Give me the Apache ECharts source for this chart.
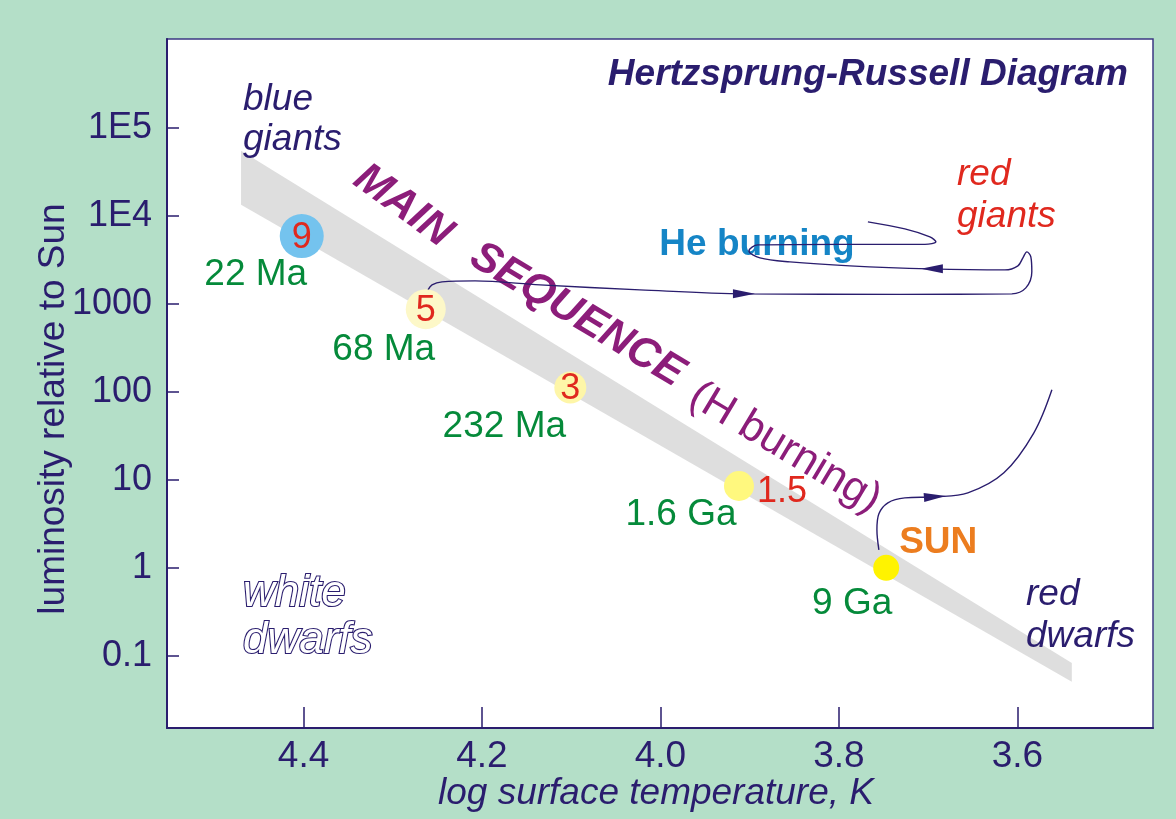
<!DOCTYPE html>
<html><head><meta charset="utf-8">
<script src="https://cdn.jsdelivr.net/npm/echarts@6/dist/echarts.min.js"></script>
<style>html,body{margin:0;padding:0;background:#b4dfc8;}#c{width:1176px;height:819px;}</style>
</head><body><div id="c"></div>
<script>
// ---- axis ticks ----
const xTicks = [3.6, 3.8, 4.0, 4.2, 4.4];          // log surface temperature
const yTicks = [-1, 0, 1, 2, 3, 4, 5];             // log10 luminosity
const yTickLabels = ['0.1', '1', '10', '100', '1000', '1E4', '1E5'];

// ---- stars on the main sequence (log T, log10 L) ----
const starTemp = [4.402, 4.263, 4.101, 3.912, 3.747];
const starLogL = [3.77, 2.94, 2.05, 0.93, 0.0];
const starMass = ['9', '5', '3', '1.5', 'SUN'];
const starAge  = ['22 Ma', '68 Ma', '232 Ma', '1.6 Ga', '9 Ga'];

// ---- main sequence band (log T, log10 L) ----
const bandTemp = [4.470, 3.539, 3.539, 4.470];
const bandLogL = [4.74, -1.08, -1.295, 4.125];

// ---- evolutionary track: 5 solar mass star to red giant and He burning loop ----
const trackATemp = [4.2605, 4.2560, 4.2448, 4.2078, 4.1350, 4.0230, 3.9053, 3.7317, 3.6062, 3.5905,
  3.5838, 3.5849, 3.5894, 3.5938, 3.5994, 3.6140, 3.6980, 3.7877, 3.8549, 3.8885,
  3.9008, 3.8908, 3.7989, 3.7036, 3.6913, 3.6980, 3.7261, 3.7675];
const trackALogL = [3.159, 3.216, 3.250, 3.261, 3.216, 3.159, 3.114, 3.108, 3.114, 3.182,
  3.364, 3.534, 3.591, 3.523, 3.432, 3.386, 3.398, 3.432, 3.477, 3.523,
  3.602, 3.670, 3.676, 3.676, 3.705, 3.761, 3.852, 3.932];

// ---- evolutionary track of the Sun ----
const trackSunTemp = [3.7552, 3.7574, 3.7552, 3.7451, 3.7261, 3.6924, 3.6555, 3.6151, 3.5815, 3.5613];
const trackSunLogL = [0.205, 0.432, 0.614, 0.739, 0.795, 0.807, 0.852, 1.080, 1.534, 2.023];

// ---- arrow heads on the tracks ----
const arrowTemp = [3.9064, 3.6958, 3.6924];
const arrowLogL = [3.114, 3.398, 0.807];

const NAVY = '#2a1d6e';
const FONT = 'Liberation Sans, Arial, Helvetica, sans-serif';

const chart = echarts.init(document.getElementById('c'), null, {renderer: 'canvas'});

function txt(text, x, y, o) {
  o = o || {};
  return {
    type: 'text', x: x, y: y, z: 2, silent: true,
    rotation: o.rot || 0,
    style: {
      text: text, fill: o.color || NAVY,
      fontSize: o.size || 37, fontFamily: FONT,
      fontStyle: o.italic ? 'italic' : 'normal',
      fontWeight: o.bold ? 'bold' : 'normal',
      align: o.align || 'left', verticalAlign: 'middle',
      stroke: o.stroke, lineWidth: o.lineWidth || 0
    }
  };
}
const deg = Math.PI / 180;

const option = {
  backgroundColor: '#b4dfc8',
  textStyle: {fontFamily: FONT},
  animation: false,
  title: {
    text: 'Hertzsprung-Russell Diagram',
    right: 43, top: 51,
    textStyle: {fontSize: 37, fontStyle: 'italic', fontWeight: 'bold', color: NAVY, fontFamily: FONT}
  },
  grid: {
    left: 167, right: 23, top: 39, bottom: 91,
    show: true, backgroundColor: '#ffffff', borderColor: '#3b3782', borderWidth: 1.5
  },
  xAxis: {
    type: 'value', inverse: true, min: 3.448, max: 4.553,
    axisLine: {show: true, onZero: false, lineStyle: {color: NAVY, width: 2}},
    axisTick: {show: true, inside: true, length: 21, customValues: xTicks, lineStyle: {color: NAVY, width: 1.5}},
    axisLabel: {customValues: xTicks, formatter: v => v.toFixed(1), color: NAVY, fontSize: 37, margin: 10, fontFamily: FONT},
    splitLine: {show: false}
  },
  yAxis: {
    type: 'value', min: -1.82, max: 6.01,
    axisLine: {show: true, onZero: false, lineStyle: {color: NAVY, width: 2}},
    axisTick: {show: true, inside: true, length: 12, customValues: yTicks, lineStyle: {color: NAVY, width: 1.5}},
    axisLabel: {
      customValues: yTicks,
      formatter: v => yTickLabels[yTicks.indexOf(Math.round(v))],
      color: NAVY, fontSize: 36, margin: 15, fontFamily: FONT
    },
    splitLine: {show: false}
  },
  graphic: {
    elements: [
      txt('luminosity relative to Sun', 54, 409, {rot: 90 * deg, align: 'center'}),
      txt('log surface temperature, K', 656, 794, {italic: true, align: 'center'}),
      txt('blue', 243, 100, {italic: true}),
      txt('giants', 243, 140, {italic: true}),
      txt('red', 957, 175, {italic: true, color: '#e0281e'}),
      txt('giants', 957, 217, {italic: true, color: '#e0281e'}),
      txt('red', 1026, 595, {italic: true}),
      txt('dwarfs', 1026, 637, {italic: true}),
      txt('white', 243, 594, {italic: true, size: 44, color: '#ffffff', stroke: NAVY, lineWidth: 2.2}),
      txt('dwarfs', 243, 641, {italic: true, size: 44, color: '#ffffff', stroke: NAVY, lineWidth: 2.2}),
      txt('He burning', 757, 245, {bold: true, align: 'center', color: '#1585c6'}),
      txt('MAIN', 403, 206, {bold: true, italic: true, size: 43, align: 'center', color: '#8c1d7a', rot: -36 * deg}),
      txt('SEQUENCE', 577, 315, {bold: true, italic: true, size: 43, align: 'center', color: '#8c1d7a', rot: -31 * deg}),
      txt('(H burning)', 785, 448, {size: 43, align: 'center', color: '#8c1d7a', rot: -31 * deg})
    ]
  },
  series: [
    {
      type: 'custom', z: 1, silent: true,
      data: [[bandTemp[0], bandLogL[0]]],
      renderItem: (params, api) => ({
        type: 'polygon',
        shape: {points: bandTemp.map((t, i) => api.coord([t, bandLogL[i]]))},
        style: {fill: '#dedede'}
      })
    },
    {
      type: 'line', z: 3, silent: true, smooth: 0.35, symbol: 'none',
      lineStyle: {color: NAVY, width: 1.4},
      data: trackATemp.map((t, i) => [t, trackALogL[i]])
    },
    {
      type: 'line', z: 3, silent: true, smooth: 0.35, symbol: 'none',
      lineStyle: {color: NAVY, width: 1.4},
      data: trackSunTemp.map((t, i) => [t, trackSunLogL[i]])
    },
    {
      type: 'scatter', z: 3, silent: true, symbol: 'triangle', symbolSize: [9, 22],
      itemStyle: {color: NAVY, opacity: 1},
      data: arrowTemp.map((t, i) => ({value: [t, arrowLogL[i]], symbolRotate: [-90, 90, -86][i]}))
    },
    {
      type: 'scatter', z: 4, silent: true,
      data: starTemp.map((t, i) => {
        const item = {
          value: [t, starLogL[i]],
          symbolSize: [44, 40, 32, 30, 26][i],
          itemStyle: {color: ['#74c3ee', '#fdf8c8', '#fef6a8', '#fff87e', '#fff300'][i], opacity: 1}
        };
        if (i === 3) item.label = {offset: [43, 6]};
        if (i === 4) item.label = {offset: [52, -25], color: '#ec7d1f', fontWeight: 'bold', fontSize: 37};
        return item;
      }),
      label: {
        show: true, position: 'inside', offset: [0, 2], formatter: p => starMass[p.dataIndex],
        color: '#e0281e', fontSize: 36, fontFamily: FONT, textBorderWidth: 0, opacity: 1
      }
    },
    {
      type: 'scatter', z: 4, silent: true, symbolSize: 0,
      itemStyle: {opacity: 1},
      data: starTemp.map((t, i) => ({
        value: [t, starLogL[i]],
        label: {offset: [[-46, 39], [-42, 41], [-66, 39], [-58, 29], [-34, 36]][i]}
      })),
      label: {
        show: true, position: 'inside', formatter: p => starAge[p.dataIndex],
        color: '#058a3a', fontSize: 37, fontFamily: FONT, textBorderWidth: 0, opacity: 1
      }
    }
  ]
};
chart.setOption(option);
</script>
</body></html>
